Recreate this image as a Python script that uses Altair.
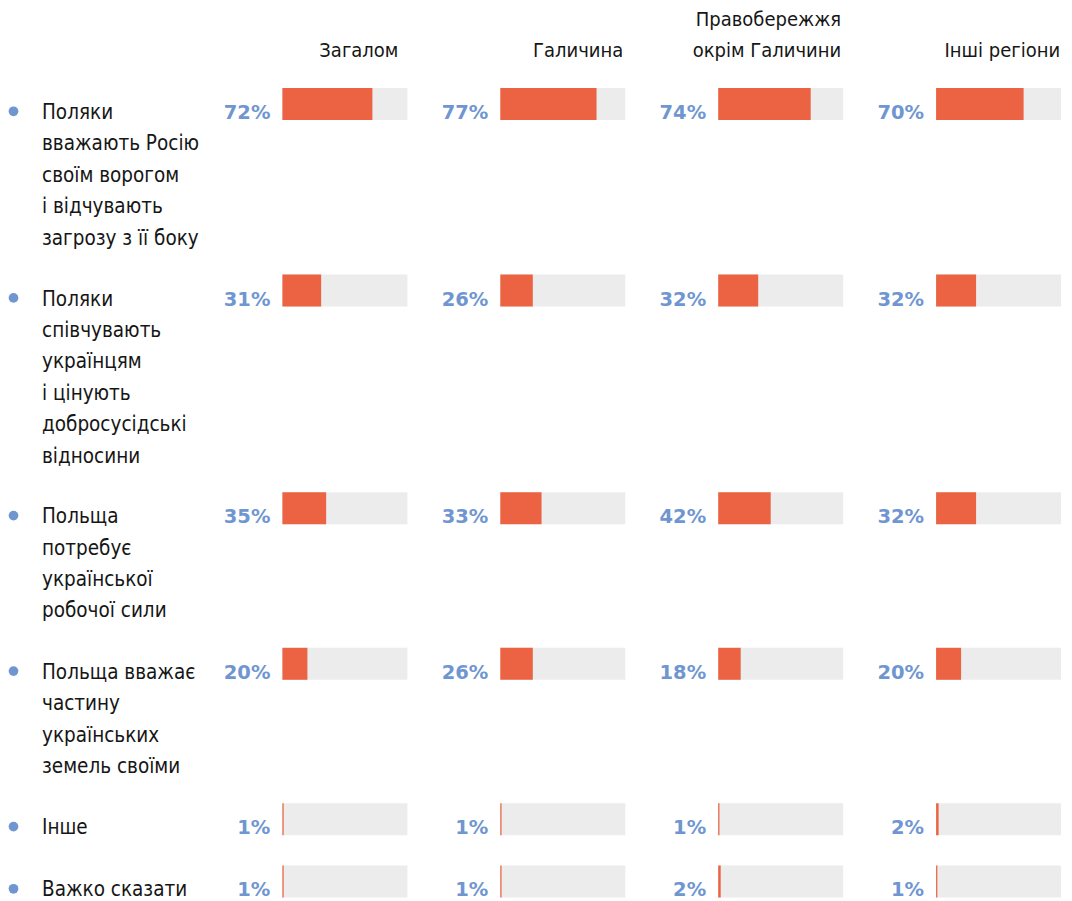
import altair as alt
import pandas as pd

# ---- data ----
regions = ["Загалом", "Галичина", "Правобережжя\nокрім Галичини", "Інші регіони"]
answers = [
    "Поляки\nвважають Росію\nсвоїм ворогом\nі відчувають\nзагрозу з її боку",
    "Поляки\nспівчувають\nукраїнцям\nі цінують\nдобросусідські\nвідносини",
    "Польща\nпотребує\nукраїнської\nробочої сили",
    "Польща вважає\nчастину\nукраїнських\nземель своїми",
    "Інше",
    "Важко сказати",
]
values_total = [72, 31, 35, 20, 1, 1]
values_galicia = [77, 26, 33, 26, 1, 1]
values_right_bank = [74, 32, 42, 18, 1, 2]
values_other = [70, 32, 32, 20, 2, 1]
series = [values_total, values_galicia, values_right_bank, values_other]

# ---- styling ----
ORANGE = "#eb6342"
GRAY = "#ececec"
BLUE = "#7096d1"
INK = "#161616"
FONT = "DejaVu Sans Condensed"
LINE = 31.1            # px per layout line unit
TEXT_LH = 31.4
BAR_H = 32 / LINE      # bar thickness in line units
Y0, Y1 = -2.572, 25 + BAR_H
HEIGHT = (Y1 - Y0) * LINE
PANEL_W = 187.5
LABEL_W = 181.8
SPACING = 29.9
HEADER_DX = [-9, -2, -2, -1]

# row layout (line units) derived from number of text lines in each answer
tops, acc = [], 0.0
for a in answers:
    tops.append(acc)
    acc += a.count("\n") + 2

base = pd.DataFrame({
    "answer": answers,
    "row_top": tops,
})
base["bar_bottom"] = base["row_top"] + BAR_H

yscale = alt.Scale(domain=[Y0, Y1], reverse=True, nice=False, zero=False)
xscale = alt.Scale(domain=[-50, 100], nice=False, zero=False)

# ---- left label column ----
lab = alt.Chart(base)
bullets = lab.transform_calculate(by="datum.bar_bottom - 0.28").mark_circle(
    size=95, color=BLUE, opacity=1
).encode(x=alt.value(5.5), y=alt.Y("by:Q", scale=yscale, axis=None))
texts = lab.mark_text(
    align="left", baseline="alphabetic", font=FONT, fontSize=20.5,
    lineBreak="\n", lineHeight=TEXT_LH, color=INK, dy=-1
).encode(x=alt.value(34), y=alt.Y("bar_bottom:Q", scale=yscale, axis=None),
         text="answer:N")
label_chart = alt.layer(bullets, texts).properties(width=LABEL_W, height=HEIGHT)


def panel(region, vals, hdx):
    d = base.copy()
    d["value"] = vals
    c = alt.Chart(d).transform_calculate(zero="0", full="100",
                                         pct="datum.value + '%'")
    y = alt.Y("row_top:Q", scale=yscale, axis=None)
    bg = c.mark_rect(color=GRAY).encode(
        x=alt.X("zero:Q", scale=xscale, axis=None), x2="full:Q",
        y=y, y2="bar_bottom:Q")
    bar = c.mark_rect(color=ORANGE).encode(
        x=alt.X("zero:Q", scale=xscale, axis=None), x2="value:Q",
        y=y, y2="bar_bottom:Q")
    pct = c.mark_text(
        align="right", baseline="alphabetic", font="DejaVu Sans",
        fontWeight="bold", fontSize=19.5, color=BLUE, dx=-12, dy=-1
    ).encode(x=alt.X("zero:Q", scale=xscale, axis=None),
             y=alt.Y("bar_bottom:Q", scale=yscale, axis=None), text="pct:N")
    n_extra = region.count("\n")
    hy = -(88 - 57) / LINE - n_extra * TEXT_LH / LINE
    hd = pd.DataFrame({"region": [region], "hx": [100], "hy": [hy]})
    head = alt.Chart(hd).mark_text(
        align="right", baseline="alphabetic", font=FONT, fontSize=20,
        lineBreak="\n", lineHeight=TEXT_LH, color=INK, dx=hdx
    ).encode(x=alt.X("hx:Q", scale=xscale, axis=None),
             y=alt.Y("hy:Q", scale=yscale, axis=None), text="region:N")
    return alt.layer(bg, bar, pct, head).properties(width=PANEL_W, height=HEIGHT)


chart = alt.hconcat(
    label_chart,
    *[panel(r, v, dx) for r, v, dx in zip(regions, series, HEADER_DX)],
    spacing=SPACING, bounds="flush"
).properties(
    padding={"left": 0, "top": 0, "right": 0, "bottom": 0}
).configure(background="white").configure_view(strokeWidth=0, strokeOpacity=0)

chart.save("out.html", embed_options={"renderer": "svg", "actions": False})
